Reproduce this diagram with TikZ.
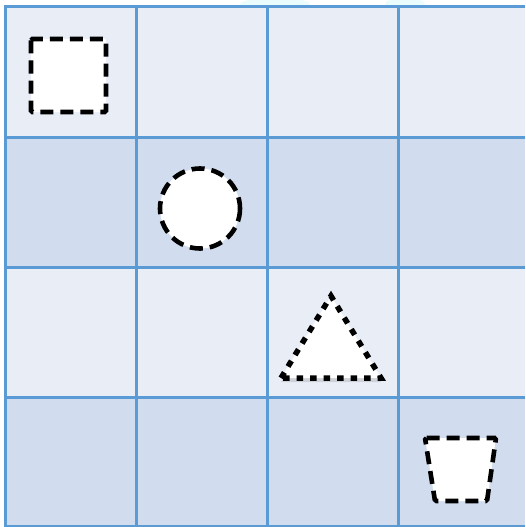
\documentclass[tikz,border=0pt]{standalone}
\usetikzlibrary{shadows}
\definecolor{lightcell}{HTML}{E9EDF6}
\definecolor{darkcell}{HTML}{D1DDEE}
\definecolor{gridline}{HTML}{5B9BD5}
\definecolor{glow}{HTML}{DDFBFB}
\tikzset{
  shapeline/.style={draw=black, fill=white, line width=4.6pt},
  dashline/.style={dash pattern=on 13pt off 7pt},
  dotline/.style={dash pattern=on 6.5pt off 7pt, line width=5.5pt},
  gridpen/.style={draw=gridline, line width=3pt}
}
\begin{document}
\begin{tikzpicture}[x=1pt,y=-1pt]
\useasboundingbox (0,0) rectangle (525,527);
\fill[white] (0,0) rectangle (525,527);
% faint glow above top edge
\fill[glow, opacity=0.6] (275,4) ellipse (35 and 6);
\fill[glow, opacity=0.6] (405,4) ellipse (20 and 6);
% rows
\fill[lightcell] (5.5,7) rectangle (525,137);
\fill[darkcell]  (5.5,137) rectangle (525,267);
\fill[lightcell] (5.5,267) rectangle (525,397);
\fill[darkcell]  (5.5,397) rectangle (525,526);
% grid lines
\foreach \yy in {7,137,267,397,526} \draw[gridpen] (4,\yy) -- (525,\yy);
\foreach \xx in {5.5,136.5,267.5,398.5} \draw[gridpen] (\xx,5.5) -- (\xx,527);
% square
\draw[shapeline, dashline, rounded corners=1.5pt] (31,39) rectangle (106,112);
% circle
\draw[shapeline, dashline] (200,208.5) circle (40);
% triangle
\draw[shapeline, dotline, drop shadow={shadow xshift=0pt, shadow yshift=-4pt, opacity=0.25}]
  (281,378) -- (331,296) -- (381,378) -- cycle;
% trapezoid
\draw[shapeline, dashline, rounded corners=1.5pt] (425,438) -- (496,438) -- (487,501) -- (435,501) -- cycle;
\end{tikzpicture}
\end{document}
